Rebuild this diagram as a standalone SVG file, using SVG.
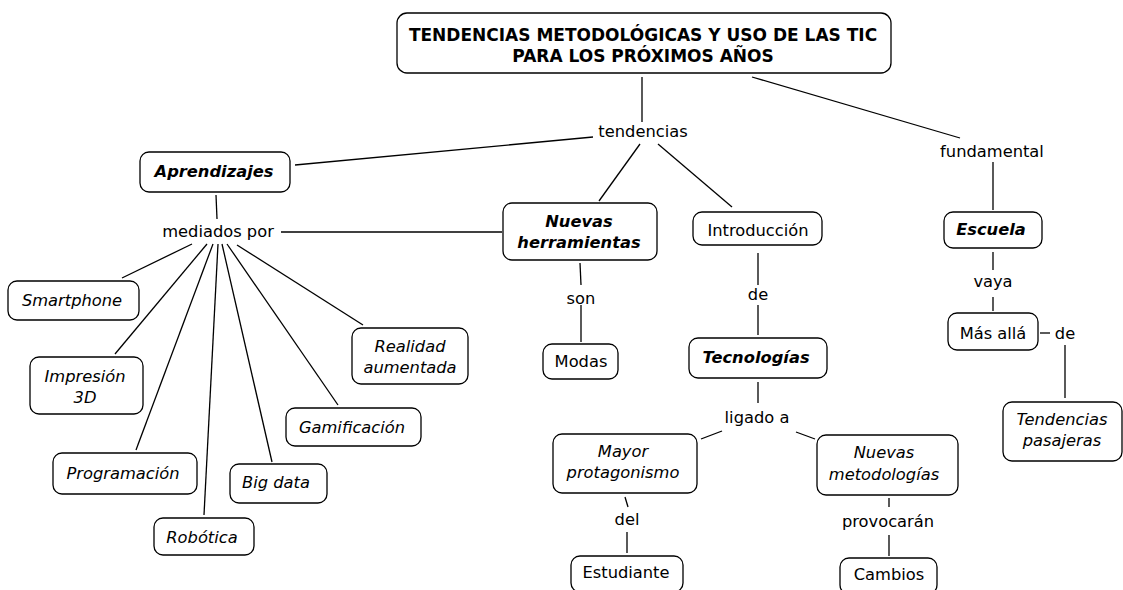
<svg xmlns="http://www.w3.org/2000/svg" width="1123" height="590" viewBox="0 0 1123 590">
<style>
.b{fill:#fff;stroke:#000;stroke-width:1.3}
text{font-family:"DejaVu Sans",Verdana,sans-serif;font-size:16.3px;fill:#000;text-anchor:middle}
.i{font-style:italic}
.bi{font-style:italic;font-weight:bold}
.t{font-weight:bold;font-size:17px}
#connectors line{stroke:#000;stroke-width:1.3}
</style>
<rect width="1123" height="590" fill="#fff"/>
<g id="connectors">
<line x1="642" y1="77" x2="642" y2="122"/>
<line x1="752" y1="77" x2="960" y2="138"/>
<line x1="593" y1="137" x2="295" y2="165"/>
<line x1="640" y1="144" x2="599" y2="201"/>
<line x1="658" y1="144" x2="732" y2="207"/>
<line x1="993" y1="162" x2="993" y2="210"/>
<line x1="993" y1="252" x2="993" y2="270"/>
<line x1="993" y1="297" x2="993" y2="311"/>
<line x1="1040" y1="333" x2="1050" y2="333"/>
<line x1="1065" y1="345" x2="1065" y2="398"/>
<line x1="216" y1="195" x2="217" y2="219"/>
<line x1="281" y1="232" x2="502" y2="232"/>
<line x1="192" y1="244" x2="122" y2="278"/>
<line x1="207" y1="244" x2="115" y2="354"/>
<line x1="213" y1="244" x2="136" y2="450"/>
<line x1="218" y1="244" x2="204" y2="515"/>
<line x1="222" y1="244" x2="272" y2="462"/>
<line x1="227" y1="244" x2="338" y2="405"/>
<line x1="237" y1="245" x2="363" y2="325"/>
<line x1="580" y1="263" x2="581" y2="285"/>
<line x1="581" y1="305" x2="581" y2="342"/>
<line x1="758" y1="253" x2="758" y2="285"/>
<line x1="758" y1="305" x2="758" y2="335"/>
<line x1="758" y1="382" x2="758" y2="403"/>
<line x1="722" y1="431" x2="701" y2="439"/>
<line x1="796" y1="432" x2="815" y2="439"/>
<line x1="625" y1="497" x2="628" y2="507"/>
<line x1="627" y1="532" x2="627" y2="553"/>
<line x1="889" y1="498" x2="889" y2="507"/>
<line x1="889" y1="535" x2="889" y2="556"/>
</g>
<g id="title"><rect class="b" x="397" y="13" width="494" height="60" rx="10"/><text class="t" x="643" y="41">TENDENCIAS METODOLÓGICAS Y USO DE LAS TIC</text><text class="t" x="643" y="62">PARA LOS PRÓXIMOS AÑOS</text></g>
<g id="lbl-tendencias"><text x="643" y="137">tendencias</text></g>
<g id="lbl-fundamental"><text x="992" y="157">fundamental</text></g>
<g id="aprendizajes"><rect class="b" x="140" y="152" width="150" height="40" rx="9"/><text class="bi" x="214" y="177">Aprendizajes</text></g>
<g id="lbl-mediados"><text x="218" y="237">mediados por</text></g>
<g id="smartphone"><rect class="b" x="8" y="281" width="131" height="39" rx="9"/><text class="i" x="72" y="306">Smartphone</text></g>
<g id="impresion"><rect class="b" x="30" y="357" width="113" height="57" rx="9"/><text class="i" x="85" y="382">Impresión</text><text class="i" x="85" y="403">3D</text></g>
<g id="programacion"><rect class="b" x="53" y="453" width="144" height="41" rx="9"/><text class="i" x="123" y="479">Programación</text></g>
<g id="robotica"><rect class="b" x="154" y="518" width="100" height="37" rx="9"/><text class="i" x="202" y="543">Robótica</text></g>
<g id="bigdata"><rect class="b" x="230" y="464" width="97" height="39" rx="9"/><text class="i" x="276" y="488">Big data</text></g>
<g id="gamificacion"><rect class="b" x="286" y="408" width="135" height="38" rx="9"/><text class="i" x="352" y="433">Gamificación</text></g>
<g id="realidad"><rect class="b" x="352" y="328" width="116" height="56" rx="9"/><text class="i" x="410" y="352">Realidad</text><text class="i" x="410" y="373">aumentada</text></g>
<g id="nuevas-herramientas"><rect class="b" x="503" y="203" width="154" height="57" rx="9"/><text class="bi" x="579" y="227">Nuevas</text><text class="bi" x="579" y="248">herramientas</text></g>
<g id="lbl-son"><text x="581" y="304">son</text></g>
<g id="modas"><rect class="b" x="543" y="344" width="75" height="35" rx="9"/><text x="581" y="367">Modas</text></g>
<g id="introduccion"><rect class="b" x="693" y="212" width="129" height="33" rx="9"/><text x="758" y="236">Introducción</text></g>
<g id="lbl-de1"><text x="758" y="300">de</text></g>
<g id="tecnologias"><rect class="b" x="689" y="338" width="138" height="40" rx="9"/><text class="bi" x="756" y="363">Tecnologías</text></g>
<g id="lbl-ligado"><text x="757" y="423">ligado a</text></g>
<g id="mayor"><rect class="b" x="553" y="434" width="144" height="59" rx="9"/><text class="i" x="623" y="457">Mayor</text><text class="i" x="623" y="478">protagonismo</text></g>
<g id="lbl-del"><text x="627" y="525">del</text></g>
<g id="estudiante"><rect class="b" x="571" y="556" width="112" height="36" rx="9"/><text x="626" y="578">Estudiante</text></g>
<g id="nuevas-metodologias"><rect class="b" x="817" y="435" width="141" height="60" rx="9"/><text class="i" x="884" y="458">Nuevas</text><text class="i" x="884" y="480">metodologías</text></g>
<g id="lbl-provocaran"><text x="888" y="527">provocarán</text></g>
<g id="cambios"><rect class="b" x="840" y="558" width="97" height="36" rx="9"/><text x="889" y="580">Cambios</text></g>
<g id="escuela"><rect class="b" x="944" y="212" width="98" height="36" rx="9"/><text class="bi" x="991" y="235">Escuela</text></g>
<g id="lbl-vaya"><text x="993" y="287">vaya</text></g>
<g id="mas-alla"><rect class="b" x="948" y="313" width="90" height="37" rx="9"/><text x="993" y="339">Más allá</text></g>
<g id="lbl-de2"><text x="1065" y="339">de</text></g>
<g id="tendencias-pasajeras"><rect class="b" x="1003" y="402" width="119" height="59" rx="9"/><text class="i" x="1062" y="425">Tendencias</text><text class="i" x="1062" y="446">pasajeras</text></g>
</svg>
